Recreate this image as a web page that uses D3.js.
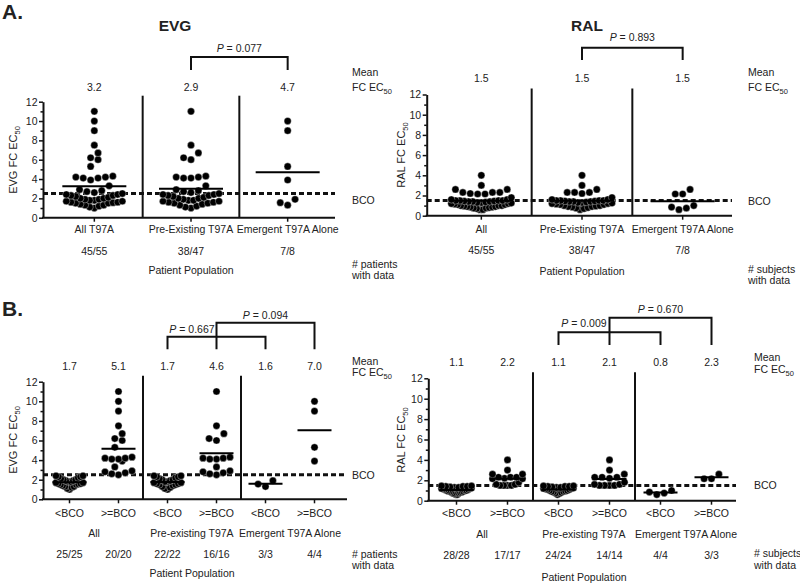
<!DOCTYPE html>
<html><head><meta charset="utf-8">
<script src="https://cdn.jsdelivr.net/npm/d3@7"></script>
<style>
body{margin:0;background:#fff}
text{font-family:Arial,"Liberation Sans",Helvetica,sans-serif;fill:#222}
</style>
</head><body>
<svg id="c" width="800" height="584"></svg>
<script>
// ---------------- DATA ----------------
const evgPreLow  = [2.4,2.4,2.3,2.3,2.2,2.1,2.0,2.0,1.9,1.8,1.8,1.7,1.7,1.6,1.6,1.5,1.5,1.4,1.3,1.2,1.1,1.0];
const evgPreHigh = [11,7.5,6.7,6.2,6.0,4.3,4.2,4.2,4.1,4.1,3.3,2.9,2.8,2.7,2.6,2.5];
const evgEmLow   = [1.9,1.55,1.3];
const evgEmHigh  = [10,9,5.3,3.9];
const ralPreLow  = [1.45,1.45,1.4,1.4,1.4,1.35,1.3,1.3,1.25,1.2,1.2,1.15,1.1,1.1,1.0,1.0,0.95,0.9,0.9,0.85,0.8,0.75,0.7,0.6];
const ralPreHigh = [4.0,3.0,2.6,2.3,2.3,2.3,2.2,1.8,1.6,1.6,1.5,1.5,1.5,1.5];
const ralEmLow   = [1.0,0.85,0.75,0.6];
const ralEmHigh  = [2.6,2.15,2.15];

const groupsA_EVG = ["All T97A","Pre-Existing T97A","Emergent T97A Alone"];
const groupsA_RAL = ["All","Pre-Existing T97A","Emergent T97A Alone"];
const countsA     = ["45/55","38/47","7/8"];
const meansA_EVG  = ["3.2","2.9","4.7"];
const meansA_RAL  = ["1.5","1.5","1.5"];

const catsB       = ["<BCO",">=BCO","<BCO",">=BCO","<BCO",">=BCO"];
const groupsB_EVG = ["All","Pre-existing T97A","Emergent T97A  Alone"];
const groupsB_RAL = ["All","Pre-existing T97A","Emergent T97A Alone"];
const countsB_EVG = ["25/25","20/20","22/22","16/16","3/3","4/4"];
const countsB_RAL = ["28/28","17/17","24/24","14/14","4/4","3/3"];
const meansB_EVG  = ["1.7","5.1","1.7","4.6","1.6","7.0"];
const meansB_RAL  = ["1.1","2.2","1.1","2.1","0.8","2.3"];

const yTicks      = [0,2,4,6,8,10,12];
const yMinorTicks = [1,3,5,7,9,11];
const bcoEVG = 2.5, bcoRAL = 1.5;
const pA_EVG = ["0.077"], pA_RAL = ["0.893"];
const pB_EVG = ["0.667","0.094"], pB_RAL = ["0.009","0.670"];

// derived series
const evgAll = [...evgPreLow,...evgPreHigh,...evgEmLow,...evgEmHigh];
const evgPre = [...evgPreLow,...evgPreHigh];
const evgEm  = [...evgEmLow,...evgEmHigh];
const ralAll = [...ralPreLow,...ralPreHigh,...ralEmLow,...ralEmHigh];
const ralPre = [...ralPreLow,...ralPreHigh];
const ralEm  = [...ralEmLow,...ralEmHigh];

// ---------------- DRAW ----------------
const svg = d3.select("#c");
const FS = 10.5;

// column-scatter layout: group nearby values into rows, spread each row centre-out
function rowLayout(values, y, rowH, sp, maxW){
  const pts = values.map(v=>({v, y:y(v)})).sort((a,b)=>b.y-a.y);
  const rows = [];
  let cur = null;
  pts.forEach(p=>{
    if (!cur || cur.y0 - p.y >= rowH){ cur = {y0:p.y, pts:[]}; rows.push(cur); }
    cur.pts.push(p);
  });
  rows.forEach(r=>{
    const n = r.pts.length;
    const s = n>1 ? Math.min(sp, maxW/(n-1)) : 0;
    const slots = d3.range(n).map(k=>(k-(n-1)/2)*s);
    slots.sort((a,b)=>Math.abs(a)-Math.abs(b) || a-b);
    r.pts.forEach((p,k)=>{ p.x = slots[k]; });
  });
  return pts;
}

function ecText(sel, prefix){
  sel.append("tspan").text(prefix+"EC");
  sel.append("tspan").attr("font-size",7.5).attr("dy",3).text("50");
}

function panel(o){
  const g = svg.append("g");
  const y = d3.scaleLinear().domain([0,12]).range([o.y0,o.y12]);
  const x = d3.scaleBand().domain(o.cats.map((c,i)=>i)).range(o.band).paddingInner(0).paddingOuter(0);
  const cx = i => x(i)+x.bandwidth()/2;

  // BCO dashed line
  g.append("line").attr("x1",o.axisX).attr("x2",o.axisEnd)
    .attr("y1",y(o.bco)).attr("y2",y(o.bco))
    .attr("stroke","#111").attr("stroke-width",3).attr("stroke-dasharray","5,3");

  // dividers
  o.dividers.forEach(i=>{
    g.append("line").attr("x1",x(i)).attr("x2",x(i))
      .attr("y1",o.y12-6).attr("y2",o.y0)
      .attr("stroke","#111").attr("stroke-width",2);
  });

  // dots + mean lines
  o.data.forEach((vals,i)=>{
    const pts = rowLayout(vals,y,7,7.4,o.maxW);
    g.selectAll(null).data(pts).enter().append("circle")
      .attr("cx",d=>cx(i)+d.x).attr("cy",d=>d.y).attr("r",3.6)
      .attr("fill","#000").attr("stroke","#fff").attr("stroke-width",0.35);
    const m = d3.mean(vals);
    g.append("line").attr("x1",cx(i)-o.meanHalf).attr("x2",cx(i)+o.meanHalf)
      .attr("y1",y(m)).attr("y2",y(m)).attr("stroke","#000").attr("stroke-width",2);
  });

  // y axis
  const ax = d3.axisLeft(y).tickValues(yTicks).tickSize(4).tickPadding(1.5).tickSizeOuter(0);
  const ag = g.append("g").attr("transform",`translate(${o.axisX},0)`).call(ax);
  ag.select(".domain").attr("stroke","#111").attr("stroke-width",2);
  ag.selectAll(".tick line").attr("stroke","#111").attr("stroke-width",1.5);
  ag.selectAll(".tick text").attr("font-size",FS).attr("fill","#222")
    .attr("font-family","Arial, 'Liberation Sans', sans-serif");
  const mg = g.append("g").attr("transform",`translate(${o.axisX},0)`)
    .call(d3.axisLeft(y).tickValues(yMinorTicks).tickSize(2.5).tickFormat("").tickSizeOuter(0));
  mg.select(".domain").remove();
  mg.selectAll(".tick line").attr("stroke","#111").attr("stroke-width",1.5);

  // x axis
  g.append("line").attr("x1",o.axisX-1).attr("x2",o.axisEnd).attr("y1",o.y0).attr("y2",o.y0)
    .attr("stroke","#111").attr("stroke-width",2);
  o.cats.forEach((c,i)=>{
    g.append("line").attr("x1",cx(i)).attr("x2",cx(i)).attr("y1",o.y0).attr("y2",o.y0+4)
      .attr("stroke","#111").attr("stroke-width",1.5);
    g.append("text").attr("x",cx(i)).attr("y",o.catY).attr("text-anchor","middle")
      .attr("font-size",FS).text(c);
    g.append("text").attr("x",cx(i)).attr("y",o.countY).attr("text-anchor","middle")
      .attr("font-size",FS).text(o.counts[i]);
    g.append("text").attr("x",cx(i)).attr("y",o.meanY).attr("text-anchor","middle")
      .attr("font-size",FS).text(o.means[i]);
  });
  if (o.groups){
    o.groups.forEach((gl,k)=>{
      const gx = (cx(2*k)+cx(2*k+1))/2;
      g.append("text").attr("x",gx).attr("y",o.groupY).attr("text-anchor","middle")
        .attr("font-size",FS).text(gl);
    });
  }
  g.append("text").attr("x",(o.band[0]+o.band[1])/2).attr("y",o.ppY)
    .attr("text-anchor","middle").attr("font-size",FS).text("Patient Population");

  // y title
  const yt = g.append("text").attr("transform",`translate(${o.yTitleX},${o.yTitleY}) rotate(-90)`)
    .attr("text-anchor","middle").attr("font-size",11);
  ecText(yt, o.yTitle+" FC ");

  // side labels
  const s = o.side;
  g.append("text").attr("x",s.x).attr("y",s.meanY).attr("font-size",FS).text("Mean");
  ecText(g.append("text").attr("x",s.x).attr("y",s.fcY).attr("font-size",FS), "FC ");
  g.append("text").attr("x",s.x).attr("y",y(o.bco)+s.bcoDy).attr("font-size",FS).text("BCO");
  g.append("text").attr("x",s.x).attr("y",s.nY).attr("font-size",FS).text(s.nLabel);
  g.append("text").attr("x",s.x).attr("y",s.nY+s.nGap).attr("font-size",FS).text("with data");

  // brackets
  o.brackets.forEach((b,k)=>{
    const xa = cx(b.a), xb = cx(b.b);
    g.append("path").attr("d",`M${xa},${o.bracketBottom}V${b.y}H${xb}V${o.bracketBottom}`)
      .attr("fill","none").attr("stroke","#111").attr("stroke-width",2);
    let tx = (xa+xb)/2;
    if (b.textLeftOf !== undefined) tx = (xa + cx(b.textLeftOf))/2;
    const t = g.append("text").attr("x",tx).attr("y",b.ty).attr("text-anchor","middle").attr("font-size",FS);
    t.append("tspan").attr("font-style","italic").text("P");
    t.append("tspan").text(" = "+o.pvals[k]);
  });
}

// Section labels and titles
svg.append("text").attr("x",2).attr("y",19).attr("font-size",21).attr("font-weight","bold").text("A.");
svg.append("text").attr("x",2).attr("y",315.5).attr("font-size",21).attr("font-weight","bold").text("B.");
svg.append("text").attr("x",175).attr("y",30.5).attr("text-anchor","middle").attr("font-size",15.5).attr("font-weight","bold").text("EVG");
svg.append("text").attr("x",587).attr("y",30.5).attr("text-anchor","middle").attr("font-size",15.5).attr("font-weight","bold").text("RAL");

panel({
  band:[46,336], axisX:43, axisEnd:335, y0:217.7, y12:101.7, maxW:56,
  cats:groupsA_EVG, data:[evgAll,evgPre,evgEm], counts:countsA, means:meansA_EVG,
  meanHalf:32, bco:bcoEVG, dividers:[1,2],
  catY:233.3, countY:255, meanY:90.7, ppY:274,
  yTitle:"EVG", yTitleX:17, yTitleY:160,
  side:{x:352, meanY:76.3, fcY:90.7, bcoDy:10.5, nY:268, nGap:11, nLabel:"# patients"},
  brackets:[{a:1,b:2,y:57,ty:52}], bracketBottom:70, pvals:pA_EVG
});
panel({
  band:[431,733], axisX:426.7, axisEnd:732, y0:215.7, y12:94.5, maxW:60,
  cats:groupsA_RAL, data:[ralAll,ralPre,ralEm], counts:countsA, means:meansA_RAL,
  meanHalf:32, bco:bcoRAL, dividers:[1,2],
  catY:233.3, countY:254, meanY:82, ppY:275,
  yTitle:"RAL", yTitleX:405, yTitleY:155,
  side:{x:748, meanY:76.3, fcY:91.3, bcoDy:4, nY:273, nGap:11, nLabel:"# subjects"},
  brackets:[{a:1,b:2,y:47.7,ty:41}], bracketBottom:60, pvals:pA_RAL
});
panel({
  band:[45,339], axisX:43, axisEnd:347, y0:499.3, y12:381.7, maxW:27,
  cats:catsB, data:[[...evgPreLow,...evgEmLow],[...evgPreHigh,...evgEmHigh],evgPreLow,evgPreHigh,evgEmLow,evgEmHigh],
  counts:countsB_EVG, means:meansB_EVG, groups:groupsB_EVG,
  meanHalf:17, bco:bcoEVG, dividers:[2,4],
  catY:516.7, groupY:536.7, countY:558, meanY:370, ppY:576.7,
  yTitle:"EVG", yTitleX:17, yTitleY:440,
  side:{x:352, meanY:364.7, fcY:375.7, bcoDy:4, nY:558, nGap:10.5, nLabel:"# patients"},
  brackets:[{a:2,b:4,y:336.7,ty:333.3,textLeftOf:3},{a:3,b:5,y:322.7,ty:319}], bracketBottom:349.3, pvals:pB_EVG
});
panel({
  band:[431,737], axisX:428.3, axisEnd:736, y0:500.7, y12:378.3, maxW:30,
  cats:catsB, data:[[...ralPreLow,...ralEmLow],[...ralPreHigh,...ralEmHigh],ralPreLow,ralPreHigh,ralEmLow,ralEmHigh],
  counts:countsB_RAL, means:meansB_RAL, groups:groupsB_RAL,
  meanHalf:17, bco:bcoRAL, dividers:[2,4],
  catY:517.3, groupY:538.3, countY:559, meanY:365.7, ppY:580.7,
  yTitle:"RAL", yTitleX:405, yTitleY:440,
  side:{x:754, meanY:360.7, fcY:373.3, bcoDy:4, nY:557.3, nGap:11.5, nLabel:"# subjects"},
  brackets:[{a:2,b:4,y:332.3,ty:327.3,textLeftOf:3},{a:3,b:5,y:317.7,ty:313}], bracketBottom:345, pvals:pB_RAL
});
</script>
</body></html>
